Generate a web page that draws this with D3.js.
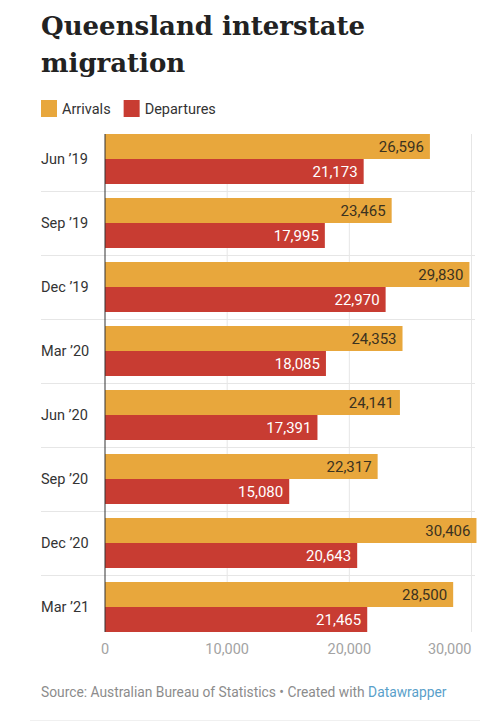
<!DOCTYPE html>
<html>
<head>
<meta charset="utf-8">
<script src="https://cdn.jsdelivr.net/npm/d3@7"></script>
<style>
  html, body { margin: 0; padding: 0; background: #fff; }
  svg { display: block; }
</style>
</head>
<body>
<svg id="chart" width="500" height="724"></svg>
<script>
const categories = ["Jun \u201919", "Sep \u201919", "Dec \u201919", "Mar \u201920", "Jun \u201920", "Sep \u201920", "Dec \u201920", "Mar \u201921"];
const seriesNames = ["Arrivals", "Departures"];
const arrivals = [26596, 23465, 29830, 24353, 24141, 22317, 30406, 28500];
const departures = [21173, 17995, 22970, 18085, 17391, 15080, 20643, 21465];
const xTicks = [0, 10000, 20000, 30000];
const titleLines = ["Queensland interstate", "migration"];
const sourceText = "Source: Australian Bureau of Statistics \u2022 Created with ";
const sourceLink = "Datawrapper";

const colors = { Arrivals: "#e8a73c", Departures: "#c83c32" };
const labelColors = { Arrivals: "#3b3220", Departures: "#ffffff" };

const svg = d3.select("#chart");
const fontSans = "Roboto, 'Noto Sans', sans-serif";

// Title
svg.append("g").selectAll("text").data(titleLines).join("text")
  .attr("x", 41)
  .attr("y", (d, i) => 35 + i * 37)
  .attr("font-family", "'DejaVu Serif', serif")
  .attr("font-weight", "bold")
  .attr("font-size", 26)
  .attr("fill", "#222")
  .text(d => d);

// Legend
const legend = svg.append("g");
let lx = 41;
seriesNames.forEach(name => {
  legend.append("rect").attr("x", lx).attr("y", 100).attr("width", 16).attr("height", 17).attr("fill", colors[name]);
  const t = legend.append("text").attr("x", lx + 21).attr("y", 114)
    .attr("font-family", fontSans).attr("font-size", 14.5).attr("fill", "#333").text(name);
  lx += 21 + t.node().getComputedTextLength() + 13;
});

// Scales
const x = d3.scaleLinear().domain([0, 30000]).range([105, 471.5]);
const y = d3.scaleBand().domain(categories).range([127, 639]).padding(0);
const ySub = d3.scaleBand().domain(seriesNames).range([7, 57]).padding(0);

const rows = categories.map((c, i) => ({ cat: c, values: [
  { name: "Arrivals", value: arrivals[i] },
  { name: "Departures", value: departures[i] }
]}));

// Grid: vertical lines
const gridTop = y(categories[0]) + 7;
const gridBottom = y(categories[categories.length - 1]) + 57;
svg.append("g").selectAll("line").data(xTicks.filter(d => d > 0)).join("line")
  .attr("x1", d => x(d)).attr("x2", d => x(d))
  .attr("y1", gridTop).attr("y2", gridBottom)
  .attr("stroke", "#e6e6e6").attr("stroke-width", 1);

// Row separators
svg.append("g").selectAll("line").data(categories.slice(1)).join("line")
  .attr("x1", 41).attr("x2", 475)
  .attr("y1", d => y(d) + 0.5).attr("y2", d => y(d) + 0.5)
  .attr("stroke", "#e6e6e6").attr("stroke-width", 1);

// Category labels
svg.append("g").selectAll("text").data(categories).join("text")
  .attr("x", 41)
  .attr("y", d => y(d) + 37)
  .attr("font-family", fontSans).attr("font-size", 14.5).attr("fill", "#333")
  .text(d => d);

// Bars
const rowG = svg.append("g").selectAll("g").data(rows).join("g")
  .attr("transform", d => `translate(0,${y(d.cat)})`);

rowG.selectAll("rect").data(d => d.values).join("rect")
  .attr("x", x(0))
  .attr("y", d => ySub(d.name))
  .attr("width", d => x(d.value) - x(0))
  .attr("height", ySub.bandwidth())
  .attr("fill", d => colors[d.name]);

rowG.selectAll("text").data(d => d.values).join("text")
  .attr("x", d => x(d.value) - 6)
  .attr("y", d => ySub(d.name) + ySub.bandwidth() / 2 + 5.5)
  .attr("text-anchor", "end")
  .attr("font-family", fontSans).attr("font-size", 15)
  .attr("fill", d => labelColors[d.name])
  .text(d => d3.format(",")(d.value));

// Zero line
svg.append("line")
  .attr("x1", x(0)).attr("x2", x(0))
  .attr("y1", gridTop).attr("y2", gridBottom)
  .attr("stroke", "#333").attr("stroke-width", 1);

// X axis labels
svg.append("g").selectAll("text").data(xTicks).join("text")
  .attr("x", d => x(d))
  .attr("y", 654)
  .attr("text-anchor", (d, i) => i === xTicks.length - 1 ? "end" : "middle")
  .attr("font-family", fontSans).attr("font-size", 14.5).attr("fill", "#a3a3a3")
  .text(d => d3.format(",")(d));

// Source
const src = svg.append("text").attr("x", 41).attr("y", 697)
  .attr("font-family", fontSans).attr("font-size", 13.8).attr("fill", "#8c8c8c");
src.append("tspan").text(sourceText);
src.append("tspan").attr("fill", "#5a9fca").text(sourceLink);

// Bottom rule
svg.append("line").attr("x1", 30).attr("x2", 480).attr("y1", 720.5).attr("y2", 720.5)
  .attr("stroke", "#f0f0f0").attr("stroke-width", 1);
</script>
</body>
</html>
